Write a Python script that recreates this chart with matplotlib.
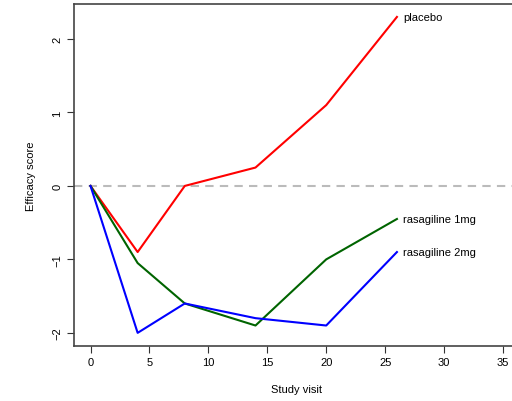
import matplotlib.pyplot as plt

plt.rcParams['font.family'] = ['Liberation Sans', 'DejaVu Sans']

visits = [0, 4, 8, 14, 20, 26]
placebo = [0, -0.9, 0, 0.25, 1.1, 2.3]
rasa_1mg = [0, -1.05, -1.6, -1.9, -1.0, -0.45]
rasa_2mg = [0, -2.0, -1.6, -1.8, -1.9, -0.9]

series = [('placebo', placebo, 'red'),
          ('rasagiline 1mg', rasa_1mg, 'darkgreen'),
          ('rasagiline 2mg', rasa_2mg, 'blue')]

fig = plt.figure(figsize=(5.12, 4.02), dpi=100)
# axes box runs past the right edge, like the cropped original
ax = fig.add_axes([74 / 512, 55.5 / 402, 445.5 / 512, 341.2 / 402])

ax.axhline(0, color='#bbbbbb', lw=1.5, ls=(0, (4, 3)), zorder=1)
for name, vals, col in series:
    ax.plot(visits, vals, color=col, lw=1.5, zorder=2)
    ax.text(visits[-1] + 0.5, vals[-1], name, fontsize=8, va='center', ha='left')

ax.set_xlim(-1.4, 36.4)
ax.set_ylim(-2.172, 2.472)
ax.set_xticks([0, 5, 10, 15, 20, 25, 30, 35])
ax.set_yticks([-2, -1, 0, 1, 2])
ax.tick_params(labelsize=8, length=5, color='#333333')
for lab in ax.get_yticklabels():
    lab.set_rotation(90)
    lab.set_va('center')
for s in ax.spines.values():
    s.set_color('#444444')
    s.set_linewidth(1.2)

ax.set_xlabel('Study visit', fontsize=8, labelpad=12)
ax.set_ylabel('Efficacy score', fontsize=8, labelpad=12)

fig.savefig('out.png', dpi=100)
